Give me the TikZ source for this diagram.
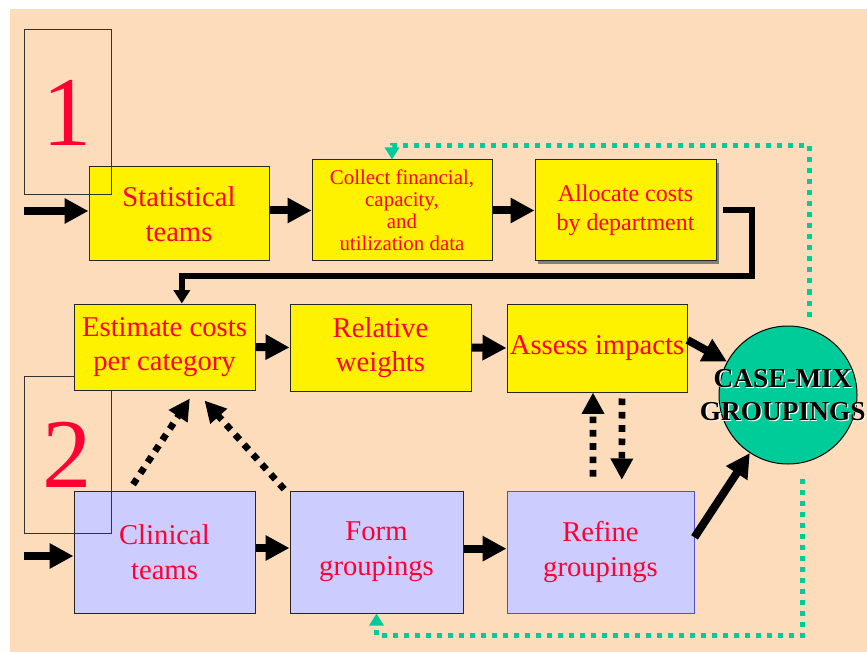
\documentclass[tikz,border=0pt]{standalone}
\usepackage{fontspec}
\setmainfont{Liberation Serif}
\usetikzlibrary{arrows.meta,shadows}
\definecolor{peach}{HTML}{FCDCBA}
\definecolor{txtred}{HTML}{FF0033}
\definecolor{lav}{HTML}{CCCCFF}
\definecolor{mixgreen}{HTML}{00CC99}
\definecolor{refblue}{HTML}{5050D0}

\begin{document}
\begin{tikzpicture}[x=0.75pt,y=-0.75pt,
	basebox/.style={draw=black!85,line width=0.75pt,text=txtred,align=center,inner sep=0pt,font=\fontsize{21.5}{26}\selectfont},
	costbox/.style={basebox,fill=yellow},
	teambox/.style={basebox,fill=lav},
	stagebox/.style={draw=black!80,line width=0.75pt,text=txtred,minimum width=65.25pt,font=\fontsize{74}{80}\selectfont},
	mixtext/.style={align=center,font=\bfseries\fontsize{20.5}{24.75}\selectfont},
	flow/.style={line width=6pt,-{Triangle[length=18pt,width=18pt]}},
	hint/.style={line width=5pt,dash pattern=on 5pt off 5pt,-{Triangle[length=16pt,width=16pt]}},
	feedback/.style={mixgreen,line width=3.75pt,dash pattern=on 3.75pt off 4.5pt,-{Triangle[length=9pt,width=10.5pt]}}]
\useasboundingbox (0,0) rectangle (867,652);
\fill[peach] (10,9) rectangle (867,652);

% step 1
\node[costbox,minimum width=135pt,minimum height=70.5pt] (stat) at (179,214) {Statistical\\teams};
\node[stagebox,minimum height=123.75pt] (one) at (67.5,112.5) {1};
\node[costbox,minimum width=135pt,minimum height=75.75pt,font=\fontsize{15.7}{16.5}\selectfont] (collect) at (402,210.5) {Collect financial,\\capacity,\\and\\utilization data};
\node[costbox,minimum width=135.75pt,minimum height=75.75pt,font=\fontsize{18}{21.75}\selectfont,
	drop shadow={shadow xshift=2.5pt,shadow yshift=-2.5pt,fill=gray,opacity=1}] (alloc) at (625.5,210.5) {Allocate costs\\by department};

% step 2
\node[teambox,minimum width=135.75pt,minimum height=91.5pt] (clin) at (164.5,552) {Clinical\\teams};
\node[stagebox,minimum height=117.75pt] (two) at (67.5,454.5) {2};
\node[costbox,minimum width=135.75pt,minimum height=64.5pt] (estim) at (164.5,347) {Estimate costs\\per category};
\node[costbox,minimum width=135.75pt,minimum height=65.25pt] (relw) at (380.5,347.5) {Relative\\weights};
\node[costbox,minimum width=135pt,minimum height=66pt] (assess) at (597,348) {Assess impacts};
\node[teambox,minimum width=129.75pt,minimum height=91.5pt] (form) at (376.5,552) {Form\\groupings};
\node[teambox,draw=refblue,minimum width=140.25pt,minimum height=91.5pt] (refine) at (600.5,552) {Refine\\groupings};

\node[circle,draw=black,line width=0.75pt,fill=mixgreen,minimum size=103.5pt] (cmix) at (788,395) {};
\node[mixtext,white] (mixshade) at (783.9,396.2) {CASE-MIX\\GROUPINGS};
\node[mixtext] (mixtitle) at (782.7,395) {CASE-MIX\\GROUPINGS};

\coordinate (src1) at (24,211);
\coordinate (src2) at (24,556);
\coordinate (bend) at (752,276);

\draw[flow] (src1) -- (stat.west |- src1);
\draw[flow] (stat.east |- collect.west) -- (collect.west);
\draw[flow] (collect.east) -- (alloc.west);
\draw[line width=4.5pt,-{Triangle[length=10pt,width=12pt]}] ([xshift=5pt]alloc.east) -| (bend) -| ([xshift=13pt]estim.north);
\draw[flow] (estim.east) -- (relw.west);
\draw[flow] (relw.east) -- (assess.west);
\draw[flow] ([yshift=6pt]assess.east) -- (cmix);
\draw[flow] (src2) -- (clin.west |- src2);
\draw[flow] ([yshift=3pt]clin.east) -- ([yshift=3pt]form.west);
\draw[flow] ([yshift=2.5pt]form.east) -- ([yshift=2.5pt]refine.west);
\draw[flow] ([yshift=11pt]refine.east) -- (cmix);

\draw[hint] ([shift={(-23.6pt,4.5pt)}]clin.north) -- ([shift={(19pt,-6pt)}]estim.south);
\draw[hint] ([shift={(-4pt,1pt)}]form.north west) -- ([shift={(30pt,-7.5pt)}]estim.south);
\draw[hint] ([shift={(-5.6pt,10.5pt)}]refine.north) -- ([xshift=-3pt]assess.south);
\draw[hint] ([shift={(18.75pt,-4.5pt)}]assess.south) -- ([shift={(16pt,8pt)}]refine.north);

\draw[feedback] ([shift={(15.75pt,6.75pt)}]cmix.north) |- ([shift={(-7.5pt,10.5pt)}]collect.north) -- ([xshift=-7.5pt]collect.north);
\draw[feedback] ([shift={(10.5pt,-10.5pt)}]cmix.south) |- ([yshift=-16.5pt]form.south) -- (form.south);
\end{tikzpicture}
\end{document}
